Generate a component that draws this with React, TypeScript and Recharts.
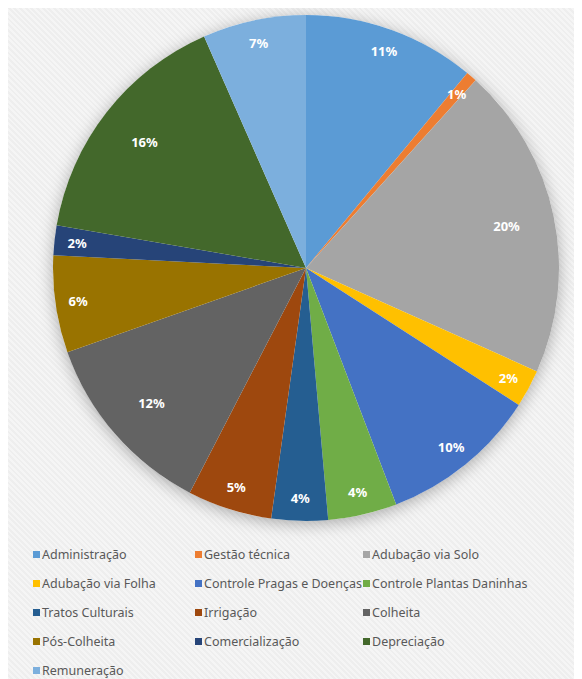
import { PieChart, Pie, Cell, Legend } from 'recharts';

const categories = [
  'Administração',
  'Gestão técnica',
  'Adubação via Solo',
  'Adubação via Folha',
  'Controle Pragas e Doenças',
  'Controle Plantas Daninhas',
  'Tratos Culturais',
  'Irrigação',
  'Colheita',
  'Pós-Colheita',
  'Comercialização',
  'Depreciação',
  'Remuneração',
];

// participação de cada item no custo total (%)
const shares = [11.0, 0.7, 20.0, 2.4, 10.1, 4.4, 3.6, 5.4, 12.0, 6.2, 1.9, 15.7, 6.6];

const colors = [
  '#5B9BD5',
  '#ED7D31',
  '#A5A5A5',
  '#FFC000',
  '#4472C4',
  '#70AD47',
  '#255E91',
  '#9E480E',
  '#636363',
  '#997300',
  '#264478',
  '#43682B',
  '#7CAFDD',
];

const data = categories.map((name, i) => ({ name, value: shares[i], color: colors[i] }));
const shadowData = [{ name: 'sombra', value: 1 }];

const RADIAN = Math.PI / 180;

const renderLabel = ({ cx, cy, midAngle, outerRadius, percent }: any) => {
  const r = percent >= 0.12 ? outerRadius * 0.81 : outerRadius * 0.91;
  const x = cx + r * Math.cos(-midAngle * RADIAN);
  const y = cy + r * Math.sin(-midAngle * RADIAN);
  return (
    <text
      x={x}
      y={y}
      fill="#ffffff"
      textAnchor="middle"
      dominantBaseline="central"
      fontSize={13}
      fontWeight="bold"
      fontFamily="'Noto Sans', sans-serif"
    >
      {`${Math.round(percent * 100)}%`}
    </text>
  );
};

const renderLegend = () => (
  <div
    style={{
      display: 'grid',
      gridTemplateColumns: '162px 168px 1fr',
      gridAutoRows: '29px',
      paddingLeft: 25,
      fontFamily: "'Noto Sans', sans-serif",
      fontSize: 12.5,
      lineHeight: '16px',
      color: '#595959',
      whiteSpace: 'nowrap',
    }}
  >
    {data.map((d) => (
      <div key={d.name} style={{ display: 'flex', alignItems: 'center' }}>
        <span style={{ width: 7, height: 7, background: d.color, marginRight: 2, flexShrink: 0 }} />
        <span>{d.name}</span>
      </div>
    ))}
  </div>
);

export default function App() {
  return (
    <div
      style={{
        width: 574,
        height: 671,
        overflow: 'hidden',
        background: 'repeating-linear-gradient(45deg, #f5f5f5 0px, #f5f5f5 2px, #eeeeee 2px, #eeeeee 4px)',
      }}
    >
      <style>{`.pie-shadow path { filter: drop-shadow(0px 3px 8px rgba(0,0,0,0.3)); }`}</style>
      <PieChart width={574} height={671} margin={{ top: 0, right: 0, bottom: 0, left: 0 }}>
        <Pie
          className="pie-shadow"
          data={shadowData}
          dataKey="value"
          cx={298}
          cy={260}
          outerRadius={253}
          fill="#ffffff"
          stroke="none"
          isAnimationActive={false}
          legendType="none"
        />
        <Pie
          data={data}
          dataKey="value"
          nameKey="name"
          cx={298}
          cy={260}
          outerRadius={253}
          startAngle={90}
          endAngle={-270}
          stroke="none"
          label={renderLabel}
          labelLine={false}
          isAnimationActive={false}
        >
          {data.map((entry, index) => (
            <Cell key={`cell-${index}`} fill={entry.color} />
          ))}
        </Pie>
        <Legend
          content={renderLegend}
          verticalAlign="bottom"
          wrapperStyle={{ left: 0, bottom: -6, width: 574 }}
        />
      </PieChart>
    </div>
  );
}
